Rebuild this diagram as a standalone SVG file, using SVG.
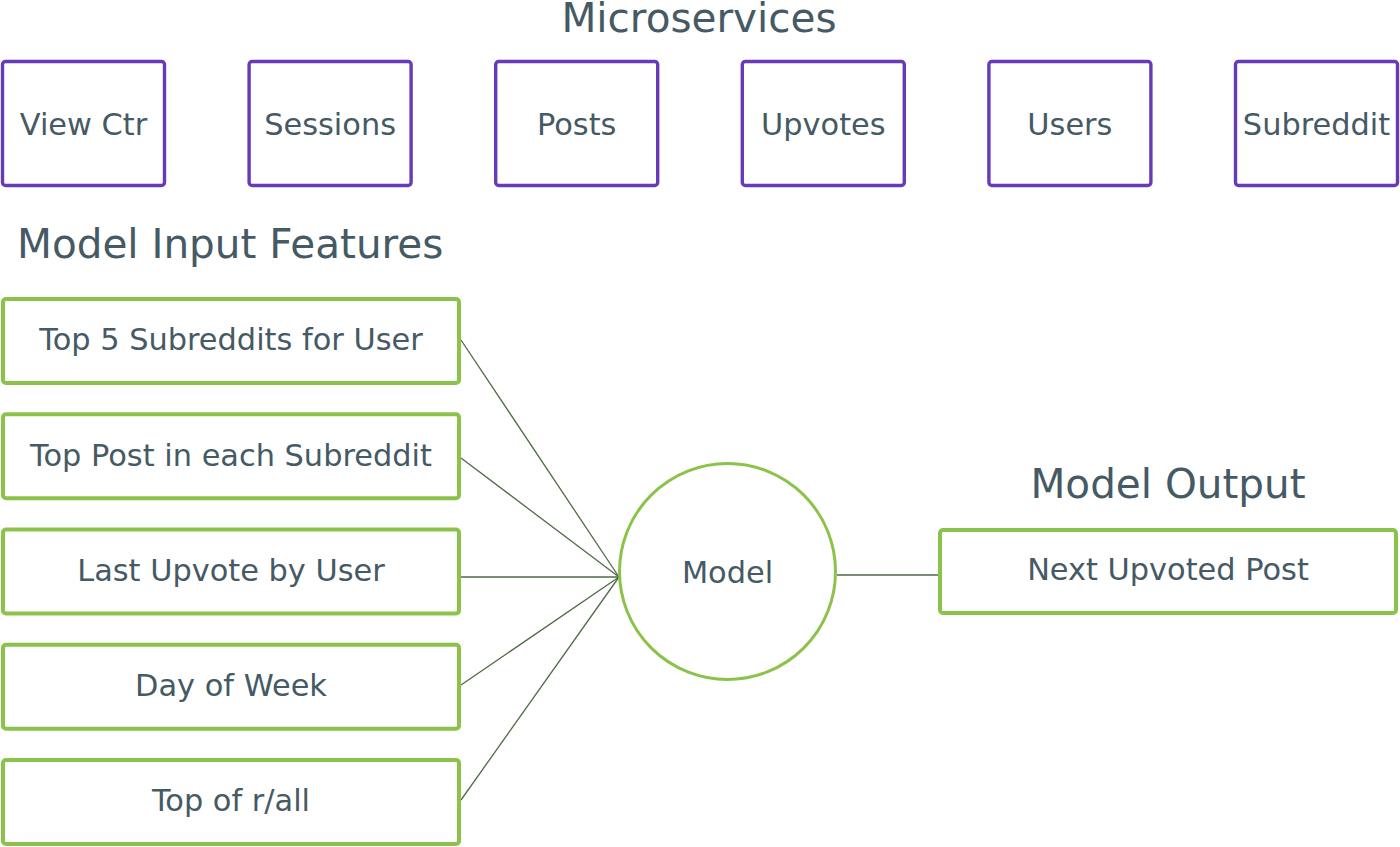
<svg xmlns="http://www.w3.org/2000/svg" width="1400" height="847" viewBox="0 0 1400 847">
<style>
text{font-family:"DejaVu Sans","Liberation Sans",sans-serif;fill:#455a64}
.h{font-size:40.5px}
.t{font-size:30.4px;text-anchor:middle}
.ms{fill:#fff;stroke:#673ab7;stroke-width:3.4}
.gb{fill:#fff;stroke:#8bc34a;stroke-width:4}
.c{stroke:#4f6a48;stroke-width:1.3;fill:none}
</style>
<rect width="1400" height="847" fill="#fff"/>
<text class="h" x="699" y="32" text-anchor="middle">Microservices</text>
<text class="h" x="17" y="258">Model Input Features</text>
<text class="h" x="1168" y="498" text-anchor="middle">Model Output</text>
<g id="connectors">
<line class="c" x1="461" y1="340" x2="619" y2="577"/>
<line class="c" x1="461" y1="458" x2="619" y2="577"/>
<line class="c" x1="461" y1="577" x2="619" y2="577"/>
<line class="c" x1="461" y1="685" x2="619" y2="577"/>
<line class="c" x1="461" y1="800" x2="619" y2="577"/>
<line class="c" x1="837" y1="575" x2="938" y2="575"/>
</g>
<g id="viewctr"><rect class="ms" x="2.5" y="61.5" width="162" height="124" rx="3"/><text class="t" x="83.5" y="135">View Ctr</text></g>
<g id="sessions"><rect class="ms" x="249.1" y="61.5" width="162" height="124" rx="3"/><text class="t" x="330.1" y="135">Sessions</text></g>
<g id="posts"><rect class="ms" x="495.7" y="61.5" width="162" height="124" rx="3"/><text class="t" x="576.7" y="135">Posts</text></g>
<g id="upvotes"><rect class="ms" x="742.3" y="61.5" width="162" height="124" rx="3"/><text class="t" x="823.3" y="135">Upvotes</text></g>
<g id="users"><rect class="ms" x="988.9" y="61.5" width="162" height="124" rx="3"/><text class="t" x="1069.9" y="135">Users</text></g>
<g id="subreddit"><rect class="ms" x="1235.5" y="61.5" width="162" height="124" rx="3"/><text class="t" x="1316.5" y="135">Subreddit</text></g>
<g id="f1"><rect class="gb" x="3" y="299" width="456" height="84" rx="3"/><text class="t" x="231" y="350">Top 5 Subreddits for User</text></g>
<g id="f2"><rect class="gb" x="3" y="414.25" width="456" height="84" rx="3"/><text class="t" x="231" y="465.5">Top Post in each Subreddit</text></g>
<g id="f3"><rect class="gb" x="3" y="529.5" width="456" height="84" rx="3"/><text class="t" x="231" y="580.5">Last Upvote by User</text></g>
<g id="f4"><rect class="gb" x="3" y="644.75" width="456" height="84" rx="3"/><text class="t" x="231" y="695.5">Day of Week</text></g>
<g id="f5"><rect class="gb" x="3" y="760" width="456" height="84" rx="3"/><text class="t" x="231" y="811">Top of r/all</text></g>
<g id="model"><circle cx="727.5" cy="571.5" r="108" fill="#fff" stroke="#8bc34a" stroke-width="3"/><text class="t" x="727.5" y="583">Model</text></g>
<g id="output"><rect class="gb" x="940" y="530" width="456" height="83" rx="3"/><text class="t" x="1168" y="580">Next Upvoted Post</text></g>
</svg>
